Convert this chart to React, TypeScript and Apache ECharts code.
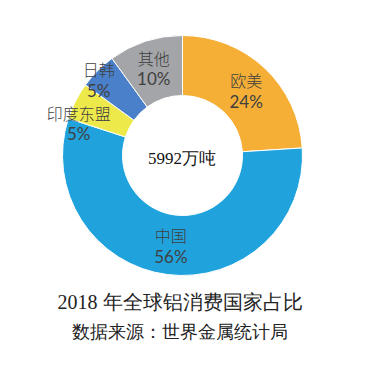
import React, { useEffect, useRef } from "react";
import * as echarts from "echarts";

const categories = ["欧美", "中国", "印度东盟", "日韩", "其他"];
const shares = [24, 56, 5, 5, 10];
const colors = ["#F5AF36", "#20A3DD", "#EEE94A", "#4A80CA", "#A4A5A8"];
const labelOffsets: number[][] = [[0, 3], [0, -2], [-21, 10], [-18, -10], [0, 1]];
const titleText = "2018 年全球铝消费国家占比";
const subtitleText = "数据来源：世界金属统计局";
const centerText = "5992万吨";

export default function App() {
  const ref = useRef<HTMLDivElement>(null);
  useEffect(() => {
    if (!ref.current) return;
    const chart = echarts.init(ref.current, undefined, { renderer: "svg" });
    const textColor = "#404040";
    chart.setOption({
      animation: false,
      backgroundColor: "#ffffff",
      series: [
        {
          type: "pie",
          center: [182.5, 155.5],
          radius: [60, 120],
          startAngle: 90,
          clockwise: true,
          avoidLabelOverlap: false,
          itemStyle: { borderColor: "#ffffff", borderWidth: 1 },
          label: {
            show: true,
            position: "inside",
            formatter: "{n|{b}}\n{p|{c}%}",
            color: textColor,
            textBorderWidth: 0,
            textBorderColor: "transparent",
            textShadowBlur: 0,
            rich: {
              n: {
                fontSize: 16,
                fontFamily: "Noto Sans CJK SC",
                fontWeight: 300,
                color: textColor,
                textBorderWidth: 0,
                lineHeight: 21,
                align: "center",
              },
              p: {
                fontSize: 17,
                fontFamily: "Lato",
                color: textColor,
                textBorderWidth: 0,
                lineHeight: 21,
                align: "center",
              },
            },
          },
          labelLine: { show: false },
          data: categories.map((name, i) => ({
            name,
            value: shares[i],
            itemStyle: { color: colors[i] },
            label: { offset: labelOffsets[i] },
          })),
        },
      ],
      graphic: [
        {
          type: "text",
          x: 182,
          y: 158,
          style: {
            text: centerText,
            align: "center",
            verticalAlign: "middle",
            fontSize: 17,
            fontFamily: "Liberation Serif",
            fontWeight: 300,
            fill: "#111111",
          },
        },
        {
          type: "text",
          x: 180,
          y: 302,
          style: {
            text: titleText,
            align: "center",
            verticalAlign: "middle",
            fontSize: 20,
            fontFamily: "Liberation Serif",
            fontWeight: 300,
            fill: "#222222",
          },
        },
        {
          type: "text",
          x: 180,
          y: 332,
          style: {
            text: subtitleText,
            align: "center",
            verticalAlign: "middle",
            fontSize: 17.5,
            fontFamily: "Liberation Serif",
            fontWeight: 300,
            fill: "#222222",
          },
        },
      ],
    });
    return () => chart.dispose();
  }, []);
  return (
    <div
      ref={ref}
      style={{ position: "fixed", left: 0, top: 0, width: 375, height: 369 }}
    />
  );
}
